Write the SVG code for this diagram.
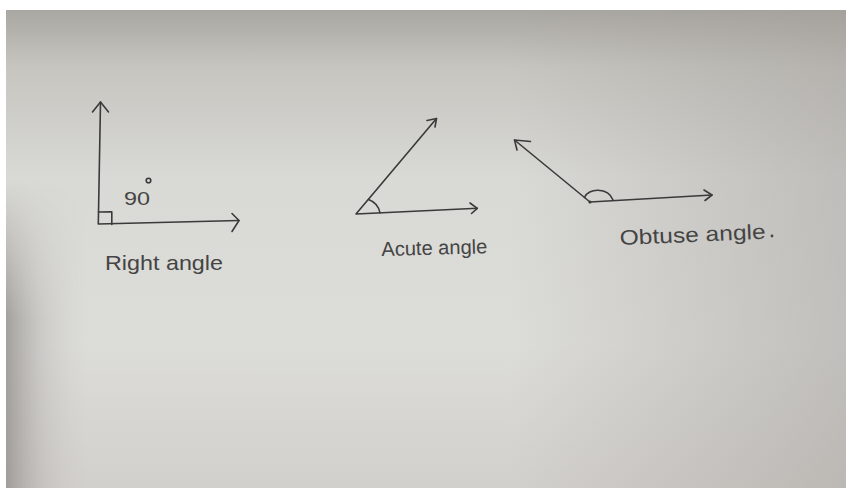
<svg xmlns="http://www.w3.org/2000/svg" width="846" height="489" viewBox="0 0 846 489">
  <defs>
    <linearGradient id="paperV" x1="0" y1="0" x2="0" y2="1">
      <stop offset="0" stop-color="#a9a7a1"/>
      <stop offset="0.12" stop-color="#c6c5c0"/>
      <stop offset="0.35" stop-color="#d9d9d5"/>
      <stop offset="0.7" stop-color="#dcdcd8"/>
      <stop offset="1" stop-color="#d2d0cc"/>
    </linearGradient>
    <linearGradient id="rightShade" x1="0" y1="0" x2="1" y2="0">
      <stop offset="0.6" stop-color="#a09c98" stop-opacity="0"/>
      <stop offset="1" stop-color="#a09c98" stop-opacity="0.45"/>
    </linearGradient>
    <linearGradient id="leftShade" x1="0" y1="0" x2="1" y2="0">
      <stop offset="0" stop-color="#8a8684" stop-opacity="0.7"/>
      <stop offset="0.45" stop-color="#a8a4a2" stop-opacity="0.3"/>
      <stop offset="1" stop-color="#c8c6c2" stop-opacity="0"/>
    </linearGradient>
    <linearGradient id="leftFade" x1="0" y1="0" x2="0" y2="1">
      <stop offset="0" stop-color="#fff" stop-opacity="0"/>
      <stop offset="0.45" stop-color="#fff" stop-opacity="1"/>
      <stop offset="1" stop-color="#fff" stop-opacity="1"/>
    </linearGradient>
    <mask id="leftMask">
      <rect x="0" y="180" width="90" height="309" fill="url(#leftFade)"/>
    </mask>
    <style>
      .ink { fill: none; stroke: #3b3a3a; stroke-width: 1.6; stroke-linecap: round; stroke-linejoin: round; }
      .hand { font-family: "Liberation Sans", "DejaVu Sans", sans-serif; fill: #454444; }
    </style>
  </defs>

  <rect x="0" y="0" width="846" height="489" fill="#ffffff"/>
  <rect x="6" y="10" width="840" height="478" fill="url(#paperV)"/>
  <rect x="6" y="10" width="840" height="478" fill="url(#rightShade)"/>
  <rect x="6" y="180" width="80" height="308" fill="url(#leftShade)" mask="url(#leftMask)"/>

  <g id="right-angle">
    <path class="ink" d="M100.5,102 L98.3,224 L239,220.5"/>
    <path class="ink" d="M92.5,112 L100.5,102 L108.5,112"/>
    <path class="ink" d="M232,213.5 L239,220.5 L232,231.5"/>
    <path class="ink" d="M98.5,212 L111.8,211.8 L111.8,224.5"/>
    <text class="hand" x="124" y="205" font-size="19" textLength="26" lengthAdjust="spacingAndGlyphs">90</text>
    <circle class="ink" cx="148.5" cy="180.5" r="2.3" stroke-width="1.1"/>
    <text class="hand" x="105" y="270" font-size="21" textLength="118" lengthAdjust="spacingAndGlyphs">Right angle</text>
  </g>

  <g id="acute-angle">
    <path class="ink" d="M436.5,118.5 L356,214 L477.3,208.3"/>
    <path class="ink" d="M427,120.5 L436.5,118.5 L435,127"/>
    <path class="ink" d="M470,203 L477.3,208.3 L471.5,213.5"/>
    <path class="ink" d="M368.5,199.5 A18,18 0 0 1 380,212.8" stroke-width="1.3"/>
    <text class="hand" x="381.5" y="256" font-size="20" textLength="106" lengthAdjust="spacingAndGlyphs" transform="rotate(-1.5 381.5 256)">Acute angle</text>
  </g>

  <g id="obtuse-angle">
    <path class="ink" d="M514.5,140 L590,202 L712,195"/>
    <path class="ink" d="M530.5,141.5 L514.5,140 L517,150"/>
    <path class="ink" d="M704,190 L712,195 L705,200.5"/>
    <path class="ink" d="M584.5,197.5 C588,188 608,187 613,200" stroke-width="1.4"/>
    <circle cx="590" cy="202" r="1.6" fill="#3b3a3a"/>
    <text class="hand" x="620" y="245" font-size="21" textLength="146" lengthAdjust="spacingAndGlyphs" transform="rotate(-2.5 620 245)">Obtuse angle</text>
    <circle cx="772" cy="236" r="1.4" fill="#454444"/>
  </g>
</svg>
